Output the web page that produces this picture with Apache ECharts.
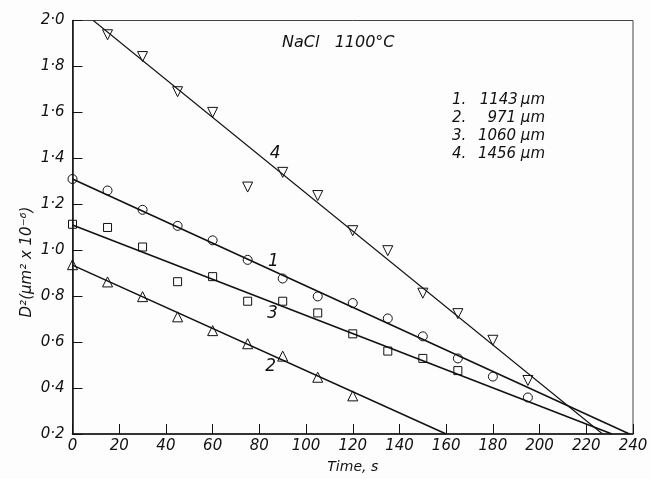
<!DOCTYPE html>
<html>
<head>
<meta charset="utf-8">
<script src="https://cdn.jsdelivr.net/npm/echarts@6/dist/echarts.min.js"></script>
<style>
html,body{margin:0;padding:0;background:#fdfdfd;}
#c{width:651px;height:479px;}
</style>
</head>
<body>
<div id="c"></div>
<script>
// ---- data ----
var s1Times = [0, 15, 30, 45, 60, 75, 90, 105, 120, 135, 150, 165, 180, 195];
var s1Values = [1.31, 1.26, 1.176, 1.106, 1.043, 0.958, 0.877, 0.799, 0.770, 0.703, 0.625, 0.529, 0.450, 0.359];
var s2Times = [0, 15, 30, 45, 60, 75, 90, 105, 120];
var s2Values = [0.937, 0.862, 0.798, 0.710, 0.650, 0.593, 0.539, 0.447, 0.366];
var s3Times = [0, 15, 30, 45, 60, 75, 90, 105, 120, 135, 150, 165];
var s3Values = [1.113, 1.099, 1.014, 0.863, 0.885, 0.778, 0.778, 0.727, 0.636, 0.561, 0.529, 0.476];
var s4Times = [15, 30, 45, 60, 75, 90, 105, 120, 135, 150, 165, 180, 195];
var s4Values = [1.938, 1.843, 1.69, 1.60, 1.275, 1.339, 1.238, 1.085, 0.998, 0.813, 0.724, 0.608, 0.433];
// fitted straight lines: [start, end] as [time, value]
var fit1 = [[0, 1.31], [238.5, 0.2]];
var fit2 = [[0, 0.935], [160, 0.2]];
var fit3 = [[0, 1.11], [231, 0.2]];
var fit4 = [[8.9, 2.0], [227, 0.2]];
var lineLabelText = ['1', '2', '3', '4'];
var lineLabelAt = [[86, 0.951], [84.9, 0.494], [85.6, 0.724], [86.8, 1.42]];
var legendNums = ['1.', '2.', '3.', '4.'];
var legendSizes = ['1143\u2009\u00b5m', '971 \u00b5m', '1060 \u00b5m', '1456 \u00b5m'];

function zip(t, v) { return t.map(function (x, i) { return [x, v[i]]; }); }

var FONT = 'DejaVu Sans';
var INK = '#111';
var chart = echarts.init(document.getElementById('c'), null, {renderer: 'canvas'});

function marker(name, sym, rot, size, data) {
  return {
    name: name, type: 'scatter', data: data, symbol: sym, symbolRotate: rot, symbolSize: size,
    itemStyle: {color: 'rgba(0,0,0,0)', borderColor: INK, borderWidth: 1, opacity: 1},
    z: 5
  };
}
function fitLine(data, w) {
  return {
    type: 'line', data: data, symbol: 'none', silent: true,
    lineStyle: {color: INK, width: w}, z: 3
  };
}

var labelData = lineLabelText.map(function (t, i) {
  return {value: lineLabelAt[i], label: {formatter: t}};
});

var option = {
  backgroundColor: '#fdfdfd',
  animation: false,
  grid: {left: 72.5, right: 18, top: 20.5, bottom: 36, show: true, borderColor: '#444', borderWidth: 1},
  xAxis: {
    type: 'value', min: 0, max: 240, interval: 20,
    axisLine: {lineStyle: {color: INK, width: 1.5}},
    axisTick: {inside: true, length: 10, lineStyle: {color: INK, width: 1}},
    splitLine: {show: false},
    axisLabel: {color: INK, fontFamily: FONT, fontStyle: 'italic', fontSize: 15, margin: 5},
    name: 'Time, s', nameLocation: 'middle', nameGap: 26,
    nameTextStyle: {color: INK, fontFamily: FONT, fontStyle: 'italic', fontSize: 14}
  },
  yAxis: {
    type: 'value', min: 0.2, max: 2.0, interval: 0.2,
    axisLine: {lineStyle: {color: INK, width: 1.5}},
    axisTick: {inside: true, length: 10, lineStyle: {color: INK, width: 1}},
    splitLine: {show: false},
    axisLabel: {
      color: INK, fontFamily: FONT, fontStyle: 'italic', fontSize: 15, margin: 8,
      formatter: function (v) { return v.toFixed(1).replace('.', '\u00b7'); }
    }
  },
  series: [
    fitLine(fit1, 1.5), fitLine(fit2, 1.5), fitLine(fit3, 1.5), fitLine(fit4, 1.1),
    marker('1', 'circle', 0, 9, zip(s1Times, s1Values)),
    marker('2', 'triangle', 0, 10, zip(s2Times, s2Values)),
    marker('3', 'rect', 0, 8, zip(s3Times, s3Values)),
    marker('4', 'triangle', 180, 10, zip(s4Times, s4Values)),
    {
      type: 'scatter', data: labelData, symbolSize: 0, silent: true,
      itemStyle: {opacity: 1},
      label: {show: true, position: 'inside', color: INK, opacity: 1, fontFamily: FONT, fontStyle: 'italic', fontSize: 17}
    }
  ],
  graphic: [
    {type: 'text', left: 282, top: 35, style: {text: 'NaCl   1100\u00b0C', fill: INK, font: 'italic 16px "DejaVu Sans"'}},
    {type: 'text', x: 27, y: 262, rotation: Math.PI / 2,
      style: {text: 'D\u00b2(\u00b5m\u00b2 x 10\u207b\u2076)', fill: INK, font: 'italic 15px "DejaVu Sans"', textAlign: 'center', textVerticalAlign: 'middle'}}
  ]
};
legendNums.forEach(function (n, i) {
  var y = 100 + i * 18;
  option.graphic.push({type: 'text', x: 452, y: y, style: {text: n, fill: INK, font: 'italic 15px "DejaVu Sans"', textAlign: 'left', textVerticalAlign: 'middle'}});
  option.graphic.push({type: 'text', x: 545, y: y, style: {text: legendSizes[i], fill: INK, font: 'italic 15px "DejaVu Sans"', textAlign: 'right', textVerticalAlign: 'middle'}});
});
chart.setOption(option);
</script>
</body>
</html>
